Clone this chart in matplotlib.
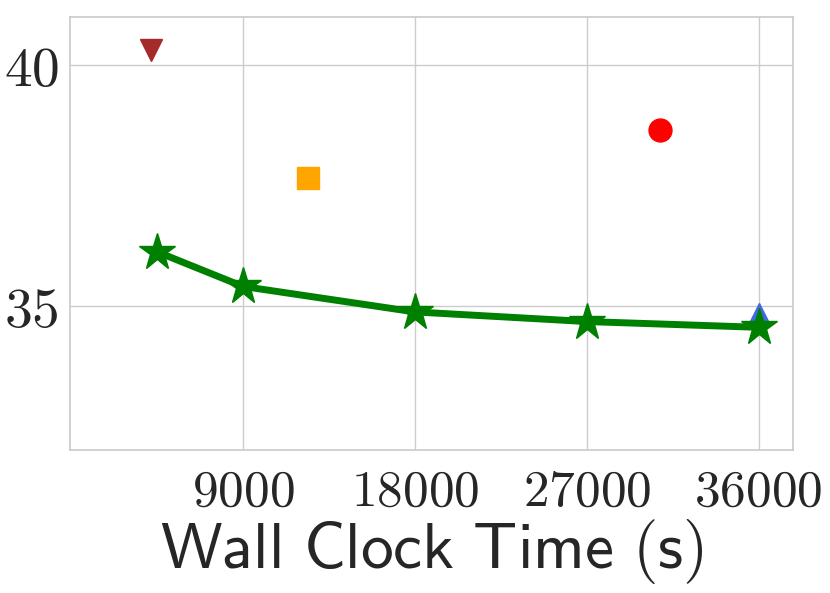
import matplotlib
matplotlib.use("Agg")
import matplotlib.pyplot as plt

# data
ours_x = [4500, 9000, 18000, 27000, 36000]
ours_y = [36.12, 35.40, 34.87, 34.67, 34.55]
brown_x = [4190]
brown_y = [40.31]
orange_x = [12390]
orange_y = [37.66]
red_x = [30860]
red_y = [38.65]
blue_x = [36000]
blue_y = [34.82]
xticks = [9000, 18000, 27000, 36000]
yticks = [35, 40]

plt.rcParams['mathtext.fontset'] = 'cm'

fig = plt.figure(figsize=(8.3, 5.93), dpi=100)
ax = fig.add_axes([70/830, 1-450/593, (793-70)/830, (450-17)/593])

ax.plot(brown_x, brown_y, linestyle='none', marker='v', color='#A52A2A', markersize=16.5)
ax.plot(orange_x, orange_y, linestyle='none', marker='s', color='#FFA500', markersize=16.5)
ax.plot(red_x, red_y, linestyle='none', marker='o', color='#FF0000', markersize=16.5)
ax.plot(blue_x, blue_y, linestyle='none', marker='^', color='#4169E1', markersize=16.5)
ax.plot(ours_x, ours_y, color='#008000', linewidth=5, marker='*', markersize=28)

ax.set_xlim(-50, 37800)
ax.set_ylim(32, 41)
ax.set_xticks(xticks)
ax.set_xticklabels([f'${v}$' for v in xticks])
ax.set_yticks(yticks)
ax.set_yticklabels([f'${v}$' for v in yticks])
ax.tick_params(axis='both', length=0, colors='#262626')
ax.tick_params(axis='x', labelsize=37, pad=12)
ax.tick_params(axis='y', labelsize=40, pad=8)

ax.grid(True, color='#cccccc', linewidth=1.0)
ax.set_axisbelow(True)
for s in ax.spines.values():
    s.set_color('#cccccc')
    s.set_linewidth(1.25)

ax.set_xlabel(r'$\mathsf{Wall\ Clock\ Time\ (s)}$', fontsize=47, color='#262626', labelpad=0)

fig.savefig('out.png', dpi=100)
